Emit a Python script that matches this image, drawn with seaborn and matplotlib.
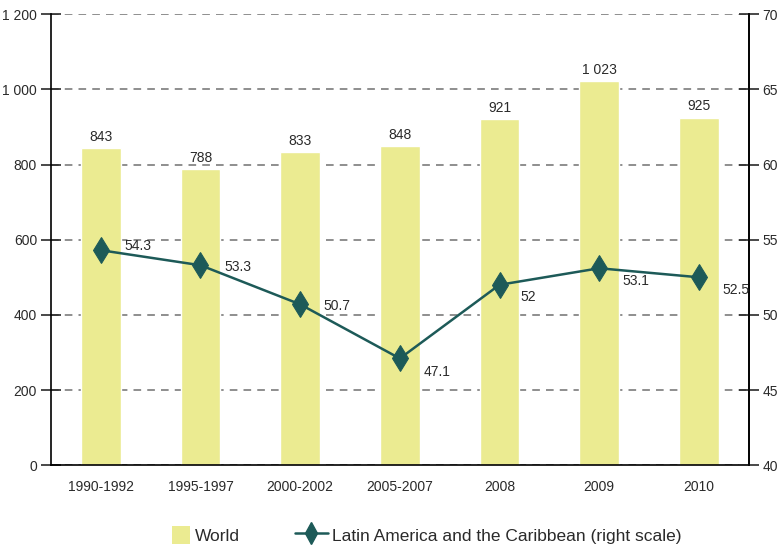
import numpy as np
import pandas as pd
import matplotlib
matplotlib.use('Agg')
import matplotlib.pyplot as plt
import seaborn as sns
from matplotlib.patches import Patch
from matplotlib.lines import Line2D

# dados
periods = ['1990-1992', '1995-1997', '2000-2002', '2005-2007', '2008', '2009', '2010']
world = [843, 788, 833, 848, 921, 1023, 925]
latam = [54.3, 53.3, 50.7, 47.1, 52, 53.1, 52.5]
latam_labels = ['54.3', '53.3', '50.7', '47.1', '52', '53.1', '52.5']

bar_color = '#ebeb91'
line_color = '#1d5a58'
txt_color = '#2a2a2a'

sns.set_style('white')
plt.rcParams['font.family'] = ['Liberation Sans', 'DejaVu Sans']
plt.rcParams['font.size'] = 10

def fmt_space(v):
    return f'{int(round(v)):,}'.replace(',', ' ')

df = pd.DataFrame({'period': periods, 'world': world, 'latam': latam, 'pos': np.arange(len(periods))})

fig = plt.figure(figsize=(7.84, 5.46), dpi=100)
ax = fig.add_axes([0.065, 0.148, 0.89, 0.826])

sns.barplot(data=df, x='period', y='world', color=bar_color, width=0.4, saturation=1, ax=ax)
ax.bar_label(ax.containers[0], labels=[fmt_space(v) for v in world], padding=3, color=txt_color, fontsize=10)

ax.set_ylim(0, 1200)
ax.set_yticks(np.arange(0, 1201, 200))
ax.set_yticklabels([fmt_space(v) for v in np.arange(0, 1201, 200)])
ax.set_xlim(-0.5, 6.5)
ax.set_xlabel('')
ax.set_ylabel('')
ax.yaxis.grid(True, linestyle=(0, (5, 4)), color='#707070', linewidth=1.1)
ax.set_axisbelow(True)
ax.tick_params(axis='x', which='major', length=0, pad=11, colors=txt_color)
ax.set_xticks(np.arange(-0.5, 7, 1), minor=True)
ax.tick_params(axis='x', which='minor', direction='inout', length=16, width=1.2)
ax.tick_params(axis='y', direction='inout', length=14, width=1.2, colors=txt_color, pad=3)
for s in ['left', 'bottom', 'right']:
    ax.spines[s].set_color('black')
    ax.spines[s].set_linewidth(1.2)
ax.spines['top'].set_visible(False)

# eixo direito
ax2 = ax.twinx()
sns.lineplot(data=df, x='pos', y='latam', color=line_color, marker='d', markersize=13,
             markeredgecolor=line_color, linewidth=1.8, ax=ax2)
ax2.set_ylim(40, 70)
ax2.set_yticks(np.arange(40, 71, 5))
ax2.set_xlim(-0.5, 6.5)
ax2.set_ylabel('')
ax2.tick_params(axis='y', direction='inout', length=14, width=1.2, colors=txt_color, pad=3)
ax2.spines['top'].set_visible(False)
ax2.spines['right'].set_color('black')
ax2.spines['right'].set_linewidth(1.2)
ax2.spines['left'].set_visible(False)
ax2.spines['bottom'].set_visible(False)

offsets = [(17, 3), (17, -1), (17, -1), (17, -10), (15, -9), (17, -9), (17, -9)]
for i, (v, t) in enumerate(zip(latam, latam_labels)):
    ax2.annotate(t, (i, v), xytext=offsets[i], textcoords='offset points',
                 ha='left', va='center', fontsize=10, color=txt_color)

# legendas (duas, para ter larguras de simbolo diferentes)
leg1 = fig.legend([Patch(facecolor=bar_color, edgecolor='none')], ['World'],
                  loc='lower left', bbox_to_anchor=(172 / 784, 0.004), frameon=False,
                  fontsize=12.5, handlelength=1.05, handleheight=1.2, handletextpad=0.25,
                  borderaxespad=0, borderpad=0, labelcolor=txt_color)
leg2 = fig.legend([Line2D([0], [0], color=line_color, marker='d', markersize=11, linewidth=1.8)],
                  ['Latin America and the Caribbean (right scale)'],
                  loc='lower left', bbox_to_anchor=(295 / 784, 0.004), frameon=False,
                  fontsize=12.5, handlelength=1.9, handleheight=1.2, handletextpad=0.25,
                  borderaxespad=0, borderpad=0, labelcolor=txt_color)

fig.savefig('out.png', dpi=100)
